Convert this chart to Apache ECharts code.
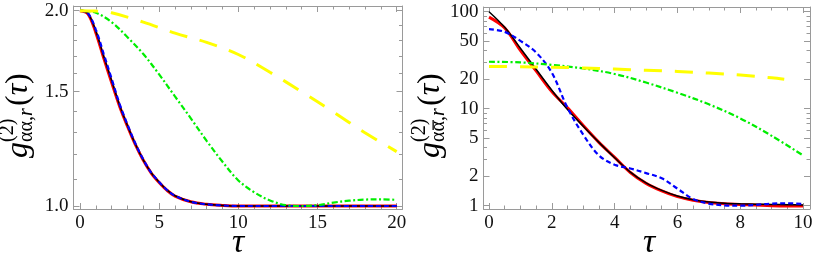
<!DOCTYPE html>
<html><head><meta charset="utf-8">
<script src="https://cdn.jsdelivr.net/npm/echarts@6/dist/echarts.min.js"></script>
<style>html,body{margin:0;padding:0;background:#fff}#c{width:822px;height:258px}</style>
</head><body><div id="c"></div>
<script>
// ---------- Left panel: g2_{αα,r}(τ), log y ----------
const leftTauMain = [0,0.5,1,1.5,2,2.5,3,3.5,4,4.5,5,5.5,6,7,8,9,10,12,15,20];
const leftBlack = [2.0,1.98,1.86,1.70,1.56,1.43,1.33,1.245,1.177,1.125,1.088,1.058,1.037,1.015,1.006,1.002,1.0,1.0,1.0,1.0];
const leftRed   = [2.0,1.978,1.85,1.69,1.55,1.425,1.327,1.243,1.176,1.124,1.087,1.057,1.036,1.015,1.006,1.002,1.0,1.0,1.0,1.0];
const leftBlue  = [2.0,1.982,1.87,1.715,1.57,1.437,1.335,1.248,1.179,1.126,1.089,1.058,1.037,1.015,1.006,1.002,1.0,1.0,1.0,1.0];
const leftTauGreen = [0,1,2,3,4,5,6,7,8,9,10,11,12,13,14,15,16,17,18,19,20];
const leftGreen = [2.0,1.985,1.92,1.82,1.715,1.595,1.475,1.365,1.26,1.17,1.095,1.05,1.02,1.003,1.0,1.003,1.012,1.019,1.023,1.024,1.022];
const leftTauYellow = [0,1,2,4,6,8,10,12,14,16,18,20];
const leftYellow = [2.0,1.997,1.985,1.92,1.847,1.787,1.712,1.607,1.50,1.396,1.297,1.213];

// ---------- Right panel: g2_{αᾱ,r}(τ), log y ----------
const rightTau = [0,0.5,1,1.5,2,2.5,3,3.5,4,4.5,5,5.5,6,6.5,7,7.5,8,8.5,9,9.5,10];
const rightBlack = [100,69,42,25.5,15.5,9.8,6.6,4.5,3.12,2.22,1.72,1.44,1.26,1.15,1.09,1.06,1.045,1.037,1.03,1.025,1.02];
const rightRed   = [88,68,40,24.5,15,10.2,6.7,4.5,3.15,2.2,1.7,1.42,1.24,1.14,1.08,1.05,1.03,1.015,1.0,0.995,0.995];
const rightBlue  = [66,62,50,38,23.5,10.2,5.4,3.3,2.65,2.42,2.17,1.92,1.5,1.17,1.05,1.01,1.0,1.02,1.05,1.06,1.04];
const rightTauGreen = [0,1,2,3,4,5,6,7,8,9,10];
const rightGreen = [30.5,30.0,28.3,26.0,22.8,18.6,14.6,11.1,7.95,5.25,3.3];
const rightTauYellow = [0,1,2,3,4,5,6,7,8,9,9.4];
const rightYellow = [27.2,27.1,26.8,26.3,25.6,24.9,24.2,23.3,22.2,20.8,20.1];

// ---------- Ticks ----------
const leftXMajor = [0,5,10,15,20];
const leftXMinor = [1,2,3,4,6,7,8,9,11,12,13,14,16,17,18,19];
const leftYMajor = [1.0,1.5,2.0];
const leftYMajorLabels = ['1.0','1.5','2.0'];
const leftYMinor = [1.1,1.2,1.3,1.4,1.6,1.7,1.8,1.9];
const rightXMajor = [0,2,4,6,8,10];
const rightXMinor = [0.5,1,1.5,2.5,3,3.5,4.5,5,5.5,6.5,7,7.5,8.5,9,9.5];
const rightYMajor = [1,2,5,10,20,50,100];
const rightYMajorLabels = ['1','2','5','10','20','50','100'];
const rightYMinor = [3,4,6,7,8,9,30,40,60,70,80,90];

const F = 'Liberation Serif';
const frameColor = '#9a9a9a';
const labelFont = {fontFamily:F, fontSize:19, color:'#111'};
const lg = Math.log10;
const id = v => v;

function axisSet(kind, grid, min, max, majors, minors, labels, isLog) {
  const tr = isLog ? lg : id;
  const fmt = v => {
    for (let i = 0; i < majors.length; i++) if (Math.abs(tr(majors[i]) - v) < 1e-6) return labels ? labels[i] : String(majors[i]);
    return '';
  };
  const positions = kind === 'x' ? ['bottom','top'] : ['left','right'];
  const out = [];
  positions.forEach((pos, pi) => {
    const base = {type:'value', gridIndex:grid, min:tr(min), max:tr(max), position:pos,
      splitLine:{show:false}, axisLine:{show:true, onZero:false, lineStyle:{color:frameColor, width:1}}};
    out.push(Object.assign({}, base, {
      axisTick:{show:true, inside:true, length:6, customValues:majors.map(tr), lineStyle:{color:frameColor}},
      axisLabel:Object.assign({show:pi===0, customValues:majors.map(tr), formatter:fmt, margin:5}, labelFont)
    }));
    out.push(Object.assign({}, base, {
      axisLine:{show:false, onZero:false},
      axisTick:{show:true, inside:true, length:3.5, customValues:minors.map(tr), lineStyle:{color:frameColor}},
      axisLabel:{show:false}
    }));
  });
  return out;
}

const xAxes = [].concat(
  axisSet('x', 0, -0.41, 20.37, leftXMajor, leftXMinor, null, false),
  axisSet('x', 1, -0.175, 10.22, rightXMajor, rightXMinor, null, false)
);
const yAxes = [].concat(
  axisSet('y', 0, 0.98941, 2.0334, leftYMajor, leftYMinor, leftYMajorLabels, true),
  axisSet('y', 1, 0.925, 111.8, rightYMajor, rightYMinor, rightYMajorLabels, true)
);

function pairs(xs, ys) { return xs.map((x, i) => [x, lg(ys[i])]); }
function line(name, xs, ys, panel, color, width, type, z) {
  return {name, type:'line', xAxisIndex:panel*4, yAxisIndex:panel*4, data:pairs(xs, ys),
    showSymbol:false, smooth:0.35, z,
    lineStyle:{color, width, type, cap:'butt'}};
}
const series = [
  line('red', leftTauMain, leftRed, 0, '#ff0000', 3, 'solid', 2),
  line('black', leftTauMain, leftBlack, 0, '#000000', 1.5, 'solid', 3),
  line('blue', leftTauMain, leftBlue, 0, '#0000ff', 2.2, [5,3], 4),
  line('green', leftTauGreen, leftGreen, 0, '#00ee00', 2.2, [6,2.5,2,2.5], 5),
  line('yellow', leftTauYellow, leftYellow, 0, '#ffff00', 3, [18,13], 6),
  line('red', rightTau, rightRed, 1, '#ff0000', 3, 'solid', 2),
  line('black', rightTau, rightBlack, 1, '#000000', 1.5, 'solid', 3),
  line('blue', rightTau, rightBlue, 1, '#0000ff', 2.2, [5,3], 4),
  line('green', rightTauGreen, rightGreen, 1, '#00ee00', 2.2, [6,2.5,2,2.5], 5),
  line('yellow', rightTauYellow, rightYellow, 1, '#ffff00', 3, [18,13], 6)
];

// rotated y label, built from pieces; (bx, by) = baseline start (bottom) on screen
function yLabel(bx, by, bar) {
  const big = 32, small = 20;
  const R = Math.PI / 2;
  const mk = (text, along, lift, size, italic, rich) => ({
    type:'text', x: bx - lift, y: by - along, rotation: R,
    style: Object.assign({text, fontFamily:F, fontSize:size, fontStyle: italic ? 'italic' : 'normal',
      fill:'#000', align:'left', verticalAlign:'bottom'}, rich ? {rich} : {})
  });
  const els = [
    mk('g', 0, -7, big, true),
    mk('(2)', 16, 10, small, false),
    mk('{a|αα,}{i|r}', 16, -9, small, false,
       {a:{fontFamily:F, fontSize:small}, i:{fontFamily:F, fontSize:small, fontStyle:'italic'}}),
    mk('{p|(}{t|τ}{p|)}', 52, -7, big, false,
       {p:{fontFamily:F, fontSize:big}, t:{fontFamily:F, fontSize:big, fontStyle:'italic'}})
  ];
  if (bar) els.push({type:'rect', shape:{x: bx - 7.5, y: by - 38, width:1.3, height:10}, style:{fill:'#000'}});
  return els;
}

const option = {
  animation:false,
  backgroundColor:'#fff',
  textStyle:{fontFamily:F},
  grid:[
    {left:73.5, top:6, width:329, height:203, containLabel:false},
    {left:483.5, top:7, width:326.5, height:202, containLabel:false}
  ],
  xAxis:xAxes, yAxis:yAxes, series,
  graphic:[
    {type:'text', x:238, y:243, style:{text:'τ', fontFamily:F, fontStyle:'italic', fontSize:34, fill:'#000', align:'center', verticalAlign:'middle'}},
    {type:'text', x:649, y:243, style:{text:'τ', fontFamily:F, fontStyle:'italic', fontSize:34, fill:'#000', align:'center', verticalAlign:'middle'}}
  ].concat(yLabel(28, 158, false), yLabel(440, 158, true))
};
const chart = echarts.init(document.getElementById('c'));
chart.setOption(option);
</script></body></html>
